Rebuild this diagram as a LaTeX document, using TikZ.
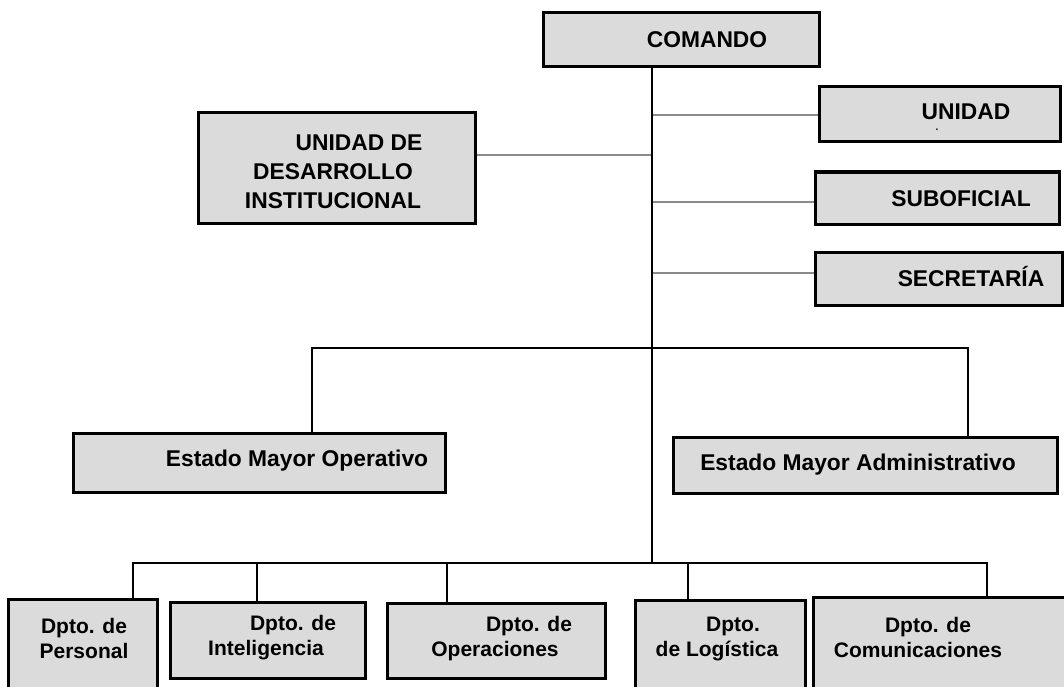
\documentclass[tikz,border=0pt]{standalone}
\usepackage{fontspec}
\setmainfont{Liberation Sans}
\definecolor{boxgray}{HTML}{DBDBDB}
\definecolor{linegray}{HTML}{8A8A8A}
\tikzset{
  orgbox/.style={draw=black, line width=3pt, fill=boxgray, inner sep=0pt, anchor=center},
  bigtxt/.style={font=\fontsize{22.8}{29}\selectfont\bfseries, align=center, inner sep=0pt, text=black},
  smalltxt/.style={font=\fontsize{21}{25}\selectfont\bfseries, align=center, inner sep=0pt, text=black},
  trunkline/.style={draw=black, line width=2.4pt},
  busline/.style={draw=black, line width=2.6pt},
  branch/.style={draw=linegray, line width=1.8pt}
}
\begin{document}
\begin{tikzpicture}[x=1pt,y=-1pt]
\useasboundingbox (0,0) rectangle (1064,687);
\clip (0,0) rectangle (1064,687);
% boxes
\node[orgbox, minimum width=276pt, minimum height=54pt] (comando) at (681,40) {};
\node[orgbox, minimum width=241pt, minimum height=55pt] (unidad) at (939.5,114.5) {};
\node[orgbox, minimum width=244pt, minimum height=52pt] (subof) at (937,198) {};
\node[orgbox, minimum width=247pt, minimum height=53pt] (secre) at (938.5,278.5) {};
\node[orgbox, minimum width=277pt, minimum height=110pt] (udi) at (336.5,168) {};
\node[orgbox, minimum width=372pt, minimum height=59pt] (emo) at (259,462.5) {};
\node[orgbox, minimum width=384pt, minimum height=56pt] (ema) at (865,465) {};
\node[orgbox, minimum width=149pt, minimum height=101pt] (per) at (82.5,649.5) {};
\node[orgbox, minimum width=195pt, minimum height=76pt] (intel) at (267.5,640) {};
\node[orgbox, minimum width=218pt, minimum height=75pt] (oper) at (496,640.5) {};
\node[orgbox, minimum width=170pt, minimum height=100pt] (logi) at (720,650) {};
\node[orgbox, minimum width=262pt, minimum height=103pt] (comu) at (944,648.5) {};
% texts
\node[bigtxt] (tcomando) at (707,40) {COMANDO};
\node[bigtxt] (tunidad) at (966,112) {UNIDAD};
\node[font=\fontsize{10}{10}\selectfont\bfseries, inner sep=0pt] (tdot) at (937,130) {.};
\node[bigtxt] (tsubof) at (961,199) {SUBOFICIAL};
\node[bigtxt] (tsecre) at (971,277) {SECRETARÍA};
\node[bigtxt] (tudi) at (333,172) {\hspace*{52pt}UNIDAD DE\\DESARROLLO\\INSTITUCIONAL};
\node[bigtxt] (temo) at (297,461) {Estado Mayor Operativo};
\node[bigtxt] (tema) at (858,465) {Estado Mayor Administrativo};
\node[smalltxt] (tper) at (84,638) {Dpto. de\\Personal};
\node[smalltxt] (tintel) at (266,638) {\hspace*{54pt}Dpto. de\\Inteligencia};
\node[smalltxt] (toper) at (495,639) {\hspace*{68pt}Dpto. de\\Operaciones};
\node[smalltxt] (tlogi) at (717,639) {\hspace*{32pt}Dpto.\\de Logística};
\node[smalltxt] (tcomu) at (918,637) {\hspace*{20pt}Dpto. de\\Comunicaciones};
% coordinates
\coordinate (trunk) at (652,563);
\coordinate (lu) at (652,115);
\coordinate (ludi) at (652,155);
\coordinate (ls) at (652,202);
\coordinate (lsec) at (652,273);
\coordinate (emL) at (312,348);
\coordinate (emR) at (968,348);
\coordinate (bL) at (133,563);
\coordinate (b2) at (257,563);
\coordinate (b3) at (447,563);
\coordinate (b4) at (688,563);
\coordinate (bR) at (987,563);
% branches
\draw[branch] (lu) -- (lu -| unidad.west);
\draw[branch] (ludi) -- (ludi -| udi.east);
\draw[branch] (ls) -- (ls -| subof.west);
\draw[branch] (lsec) -- (lsec -| secre.west);
% trunk
\draw[trunkline] (comando.south -| trunk) -- (trunk);
% estado mayor bus
\draw[busline] (emo.north -| emL) -- (emL) -- (emR) -- (ema.north -| emR);
% departments bus
\draw[busline] (per.north -| bL) -- (bL) -- (bR) -- (comu.north -| bR);
\draw[busline] (b2) -- (intel.north -| b2);
\draw[busline] (b3) -- (oper.north -| b3);
\draw[busline] (b4) -- (logi.north -| b4);
\end{tikzpicture}
\end{document}
